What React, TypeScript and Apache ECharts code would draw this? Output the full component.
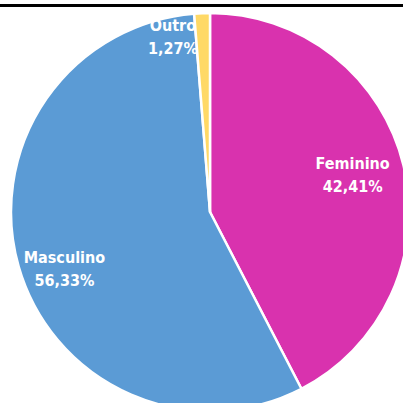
import React, { useEffect, useRef } from "react";
import * as echarts from "echarts";

const categories = ["Feminino", "Masculino", "Outro"];
const percentages = [42.41, 56.33, 1.27];
const colors = ["#D932AE", "#5B9BD5", "#FFD966"];
const labelShifts = [
  [43, -13],
  [-47, 29],
  [-33, -73],
];

export default function App() {
  const ref = useRef<HTMLDivElement>(null);
  useEffect(() => {
    if (!ref.current) return;
    const chart = echarts.init(ref.current, undefined, { renderer: "svg" });
    chart.setOption({
      animation: false,
      graphic: [
        {
          type: "rect",
          shape: { x: 0, y: 4, width: 403, height: 3 },
          style: { fill: "#000" },
          z: 10,
        },
      ],
      series: [
        {
          type: "pie",
          center: [210, 212],
          radius: 199,
          startAngle: 90,
          clockwise: true,
          data: categories.map((c, i) => ({
            name: c,
            value: percentages[i],
            itemStyle: { color: colors[i] },
          })),
          itemStyle: { borderColor: "#fff", borderWidth: 2.5 },
          label: {
            show: true,
            position: "inside",
            color: "#fff",
            fontFamily: "DejaVu Sans Condensed",
            fontWeight: "bold",
            fontSize: 16,
            lineHeight: 23,
            formatter: (p: any) =>
              p.name + "\n" + p.value.toFixed(2).replace(".", ",") + "%",
          },
          labelLine: { show: false },
          labelLayout: (p: any) => ({
            dx: labelShifts[p.dataIndex][0],
            dy: labelShifts[p.dataIndex][1],
          }),
          emphasis: { disabled: true },
        },
      ],
    });
    return () => chart.dispose();
  }, []);
  return (
    <div
      ref={ref}
      style={{ position: "absolute", left: 0, top: 0, width: 403, height: 403 }}
    />
  );
}
